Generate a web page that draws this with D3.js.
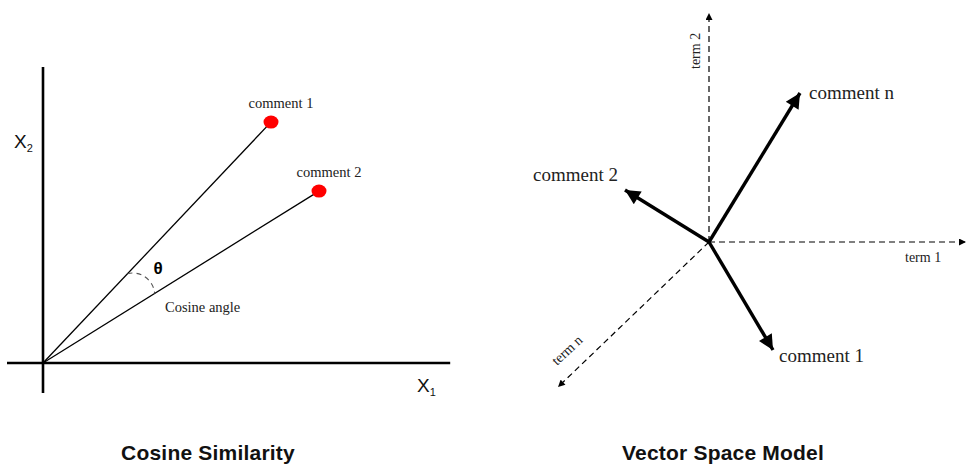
<!DOCTYPE html>
<html><head><meta charset="utf-8">
<script src="https://cdn.jsdelivr.net/npm/d3@7"></script>
<style>body{margin:0;background:#fff}</style>
</head><body>
<svg id="c" width="967" height="466"></svg>
<script>
// Left panel: cosine similarity (data units)
const leftPoints = [
  {name: "comment 1", x: 5.7, y: 8.03},
  {name: "comment 2", x: 6.9, y: 5.73}
];
const leftAxisLabels = ["X", "X"];
const leftAxisSubs = ["1", "2"];
// Right panel: vector space model (data units)
const rightVectors = [
  {name: "comment n", x: 4.55, y: 7.45},
  {name: "comment 2", x: -4.2, y: 2.6},
  {name: "comment 1", x: 3.2, y: -5.4}
];
const rightAxes = [
  {name: "term 1", x: 12.85, y: 0},
  {name: "term 2", x: 0, y: 11.45},
  {name: "term n", x: -7.55, y: -7.25}
];
const titles = ["Cosine Similarity", "Vector Space Model"];

const svg = d3.select("#c");
const defs = svg.append("defs");
defs.append("marker").attr("id","big").attr("viewBox","0 0 10 10").attr("refX",10).attr("refY",5)
  .attr("markerWidth",5.2).attr("markerHeight",4.4).attr("markerUnits","strokeWidth").attr("orient","auto")
  .append("path").attr("d","M0,0L10,5L0,10z").attr("fill","#000");
defs.append("marker").attr("id","small").attr("viewBox","0 0 10 10").attr("refX",10).attr("refY",5)
  .attr("markerWidth",8).attr("markerHeight",7).attr("markerUnits","userSpaceOnUse").attr("orient","auto")
  .append("path").attr("d","M0,0L10,5L0,10z").attr("fill","#000");

// ---- Left panel
const lx = d3.scaleLinear().domain([0,10]).range([43,443]);
const ly = d3.scaleLinear().domain([0,10]).range([363,63]);
const L = svg.append("g");
L.append("line").attr("x1",lx(0)).attr("x2",lx(0)).attr("y1",ly(-1)).attr("y2",ly(9.87)).attr("stroke","#000").attr("stroke-width",2.6);
L.append("line").attr("x1",lx(-0.9)).attr("x2",lx(10.18)).attr("y1",ly(0)).attr("y2",ly(0)).attr("stroke","#000").attr("stroke-width",2.6);
leftPoints.forEach(p=>{
  L.append("line").attr("x1",lx(0)).attr("y1",ly(0)).attr("x2",lx(p.x)).attr("y2",ly(p.y)).attr("stroke","#000").attr("stroke-width",1.3);
  L.append("ellipse").attr("cx",lx(p.x)).attr("cy",ly(p.y)).attr("rx",7.5).attr("ry",6.5).attr("fill","#f00");
  L.append("text").attr("x",lx(p.x)+10).attr("y",ly(p.y)-14).attr("text-anchor","middle")
    .attr("font-family","Liberation Serif, Times New Roman, serif").attr("font-size",14.5).attr("fill","#222").text(p.name);
});
// angle arc (small dashed arc between the two lines)
function onLine(p, dist){
  const dx = lx(p.x)-lx(0), dy = ly(p.y)-ly(0), len = Math.hypot(dx,dy);
  return [lx(0)+dx/len*dist, ly(0)+dy/len*dist];
}
const s = onLine(leftPoints[0], 123), e = onLine(leftPoints[1], 131.5);
L.append("path").attr("d",`M${s[0]},${s[1]}A22,22 0 0 1 ${e[0]},${e[1]}`)
  .attr("fill","none").attr("stroke","#555").attr("stroke-width",1.1).attr("stroke-dasharray","5,4");
L.append("text").attr("x",158).attr("y",274).attr("text-anchor","middle").attr("font-family","Liberation Sans, Arial, sans-serif")
  .attr("font-weight","bold").attr("font-size",17).text("θ");
L.append("text").attr("x",165).attr("y",312).attr("font-family","Liberation Serif, Times New Roman, serif").attr("font-size",14.5).attr("fill","#222").text("Cosine angle");
// axis labels
[[14,148,1],[417,392,0]].forEach(([x,y,i])=>{
  const t = L.append("text").attr("x",x).attr("y",y).attr("font-family","Liberation Sans, Arial, sans-serif").attr("font-size",19).attr("fill","#111");
  t.append("tspan").text(leftAxisLabels[i]);
  t.append("tspan").attr("font-size",11).attr("dy",4).text(leftAxisSubs[i]);
});

// ---- Right panel
const rx = d3.scaleLinear().domain([0,1]).range([709,729]);
const ry = d3.scaleLinear().domain([0,1]).range([242,222]);
const R = svg.append("g");
rightAxes.forEach(a=>{
  R.append("line").attr("x1",rx(0)).attr("y1",ry(0)).attr("x2",rx(a.x)).attr("y2",ry(a.y))
    .attr("stroke","#000").attr("stroke-width",1.2).attr("stroke-dasharray","6,4").attr("marker-end","url(#small)");
});
rightVectors.forEach(v=>{
  R.append("line").attr("x1",rx(0)).attr("y1",ry(0)).attr("x2",rx(v.x)).attr("y2",ry(v.y))
    .attr("stroke","#000").attr("stroke-width",3.4).attr("marker-end","url(#big)");
});
const serif = "Liberation Serif, Times New Roman, serif";
R.append("text").attr("x",809).attr("y",99).attr("font-family",serif).attr("font-size",19).attr("fill","#222").text(rightVectors[0].name);
R.append("text").attr("x",533).attr("y",181).attr("font-family",serif).attr("font-size",19).attr("fill","#222").text(rightVectors[1].name);
R.append("text").attr("x",779).attr("y",362).attr("font-family",serif).attr("font-size",19).attr("fill","#222").text(rightVectors[2].name);
R.append("text").attr("x",905).attr("y",262).attr("font-family",serif).attr("font-size",14).attr("fill","#222").text(rightAxes[0].name);
R.append("text").attr("transform","translate(700,69) rotate(-90)").attr("font-family",serif).attr("font-size",14).attr("fill","#222").text(rightAxes[1].name);
R.append("text").attr("transform","translate(557,366) rotate(-43)").attr("font-family",serif).attr("font-size",14).attr("fill","#222").text(rightAxes[2].name);

// Titles
[[208,0],[723,1]].forEach(([x,i])=>{
  svg.append("text").attr("x",x).attr("y",460).attr("text-anchor","middle")
    .attr("font-family","Liberation Sans Narrow, Arial Narrow, Liberation Sans, Arial, sans-serif")
    .attr("font-weight","bold").attr("font-size",21).attr("letter-spacing",0.2).attr("fill","#111").text(titles[i]);
});
</script>
</body></html>
